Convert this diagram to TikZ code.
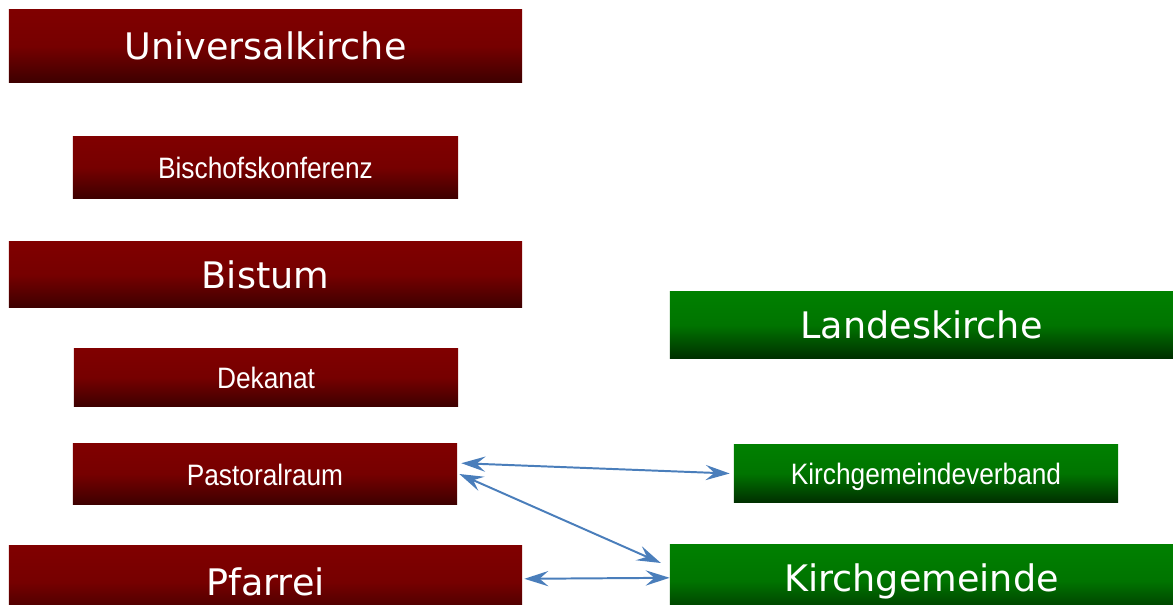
\documentclass[tikz,border=0pt]{standalone}
\usepackage{fontspec}
\setmainfont{DejaVu Sans}
\newfontfamily\narrowfont[FakeStretch=0.89]{Liberation Sans}
\usetikzlibrary{arrows.meta,positioning}
\definecolor{rkred}{RGB}{128,0,0}
\definecolor{rkdark}{RGB}{62,0,0}
\definecolor{rfgreen}{RGB}{0,128,0}
\definecolor{rfdark}{RGB}{0,48,0}
\definecolor{linkblue}{RGB}{74,126,187}

\begin{document}
\begin{tikzpicture}[x=0.025cm,y=-0.025cm,
    box/.style={inner sep=0pt,text=white},
    red/.style={box,top color=rkred,bottom color=rkdark,middle color=rkred!85!rkdark},
    green/.style={box,top color=rfgreen,bottom color=rfdark,middle color=rfgreen!85!rfdark},
    big/.style={font=\fontsize{26}{30}\selectfont},
    small/.style={font=\narrowfont\fontsize{21}{25}\selectfont,text height=18pt,text depth=2pt},
    link/.style={draw=linkblue,line width=1.4pt,{Stealth[length=6mm,width=3.8mm,inset=2.2mm]}-{Stealth[length=6mm,width=3.8mm,inset=2.2mm]}}]
    \useasboundingbox (0,0) rectangle (1173,605);

    % roemisch-katholische Seite
    \node[red,big,minimum width=12.825cm,minimum height=1.8cm] (universal) at (265.5,46) {Universalkirche};
    \node[red,small,minimum width=9.625cm,minimum height=1.525cm] (konferenz) at (265.5,167.5) {Bischofskonferenz};
    \node[red,big,minimum width=12.825cm,minimum height=1.625cm] (bistum) at (265.5,274.5) {Bistum};
    \node[red,small,minimum width=9.6cm,minimum height=1.425cm] (dekanat) at (266,377.5) {Dekanat};
    \node[red,small,minimum width=9.6cm,minimum height=1.5cm] (pastoral) at (265,474) {Pastoralraum};
    % unten vom Bildrand abgeschnitten
    \node[red,big,minimum width=12.825cm,minimum height=1.8cm] (pfarrei) at (265.5,582) {Pfarrei};

    % staatskirchenrechtliche Seite
    \node[green,big,minimum width=12.575cm,minimum height=1.65cm] (landes) at (921.5,325) {Landeskirche};
    \node[green,small,minimum width=9.6cm,minimum height=1.425cm] (verband) at (926,473.5) {Kirchgemeindeverband};
    \node[green,big,minimum width=12.575cm,minimum height=1.8cm] (gemeinde) at (921.5,581) {Kirchgemeinde};

    % Verbindungen
    \draw[link] ([xshift=0.1cm,yshift=0.27cm]pastoral.east) -- ([xshift=-0.1cm]verband.west);
    \draw[link] ([xshift=0.05cm]pastoral.east) -- ([xshift=-0.22cm,yshift=0.45cm]gemeinde.west);
    \draw[link] ([xshift=0.05cm,yshift=0.08cm]pfarrei.east) -- ([yshift=0.08cm]gemeinde.west);
\end{tikzpicture}
\end{document}
